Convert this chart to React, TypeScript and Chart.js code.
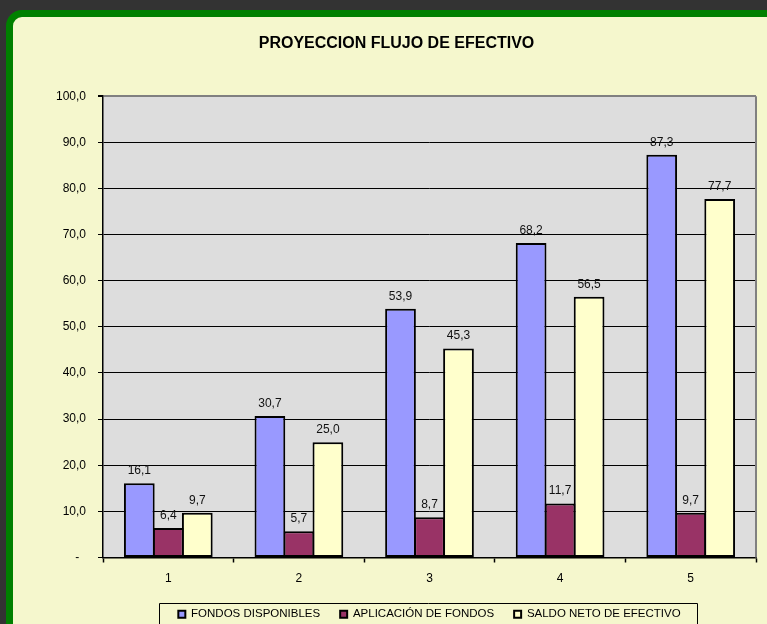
import React, { useEffect, useRef } from "react";
import { Chart, registerables } from "chart.js";

Chart.register(...registerables);

const categories = ["1", "2", "3", "4", "5"];
const fondosDisponibles = [16.1, 30.7, 53.9, 68.2, 87.3];
const aplicacionFondos = [6.4, 5.7, 8.7, 11.7, 9.7];
const saldoNeto = [9.7, 25.0, 45.3, 56.5, 77.7];
const seriesNames = ["FONDOS DISPONIBLES", "APLICACIÓN DE FONDOS", "SALDO NETO DE EFECTIVO"];
const titleText = "PROYECCION FLUJO DE EFECTIVO";

const FONT = "'Liberation Sans', Arial, sans-serif";

const fmt = (v: number) => v.toFixed(1).replace(".", ",");

const plotBgPlugin = {
  id: "plotBg",
  beforeDraw(chart: any) {
    const { ctx, chartArea } = chart;
    ctx.save();
    ctx.fillStyle = "#DDDDDD";
    ctx.fillRect(chartArea.left, chartArea.top, chartArea.right - chartArea.left, chartArea.bottom - chartArea.top);
    ctx.restore();
  },
  afterDraw(chart: any) {
    const { ctx, chartArea } = chart;
    ctx.save();
    ctx.strokeStyle = "#808080";
    ctx.lineWidth = 2;
    ctx.beginPath();
    ctx.moveTo(chartArea.right, chartArea.top);
    ctx.lineTo(chartArea.right, chartArea.bottom);
    ctx.stroke();
    // legend frame
    const lg = chart.legend;
    if (lg && lg.legendHitBoxes && lg.legendHitBoxes.length) {
      const boxes = lg.legendHitBoxes;
      let minL = Infinity;
      let maxR = -Infinity;
      let top = Infinity;
      boxes.forEach((b: any) => {
        minL = Math.min(minL, b.left);
        maxR = Math.max(maxR, b.left + b.width);
        top = Math.min(top, b.top);
      });
      ctx.strokeStyle = "#000";
      ctx.lineWidth = 1;
      const x0 = Math.round(minL - 19) + 0.5;
      const x1 = Math.round(maxR + 16) + 0.5;
      const y0 = Math.round(top - 6) + 0.5;
      ctx.beginPath();
      ctx.rect(x0, y0, x1 - x0, 40);
      ctx.stroke();
    }
    ctx.restore();
  },
};

const dataLabelPlugin = {
  id: "dataLabels",
  afterDatasetsDraw(chart: any) {
    const { ctx } = chart;
    ctx.save();
    ctx.font = `12px ${FONT}`;
    ctx.fillStyle = "#111";
    ctx.textAlign = "center";
    ctx.textBaseline = "middle";
    chart.data.datasets.forEach((ds: any, i: number) => {
      const meta = chart.getDatasetMeta(i);
      meta.data.forEach((el: any, j: number) => {
        ctx.fillText(fmt(ds.data[j]), el.x, el.y - 12.5);
      });
    });
    ctx.restore();
  },
};

export default function App() {
  const ref = useRef<HTMLCanvasElement>(null);
  useEffect(() => {
    if (!ref.current) return;
    const common = {
      borderColor: "#000",
      borderWidth: 2,
      borderSkipped: false,
      barPercentage: 1.06,
      categoryPercentage: 0.666,
    };
    const chart = new Chart(ref.current, {
      type: "bar",
      data: {
        labels: categories,
        datasets: [
          { label: seriesNames[0], data: fondosDisponibles, backgroundColor: "#9999FF", ...common },
          { label: seriesNames[1], data: aplicacionFondos, backgroundColor: "#993366", ...common },
          { label: seriesNames[2], data: saldoNeto, backgroundColor: "#FFFFCC", ...common },
        ],
      },
      options: {
        animation: false,
        responsive: false,
        devicePixelRatio: 1,
        layout: { padding: { left: 37, right: 11, top: 0, bottom: -6 } },
        plugins: {
          title: {
            display: true,
            text: titleText,
            color: "#000",
            font: { size: 16, weight: "bold", family: FONT, lineHeight: 1.2 },
            padding: { top: 34, bottom: 43 },
          },
          legend: {
            display: true,
            position: "bottom",
            fullSize: false,
            labels: {
              color: "#000",
              font: { size: 11.5, family: FONT },
              boxWidth: 7,
              boxHeight: 7,
              padding: 20,
            },
          },
          tooltip: { enabled: false },
        },
        scales: {
          x: {
            grid: {
              drawOnChartArea: false,
              drawTicks: true,
              tickLength: 5,
              tickColor: "#000",
              tickWidth: 1.5,
              offset: true,
            },
            border: { color: "#000", width: 1.5 },
            ticks: { color: "#000", font: { size: 12, family: FONT }, padding: 9 },
            afterFit(scale: any) {
              scale.height = 31;
            },
          },
          y: {
            min: 0,
            max: 100,
            ticks: {
              stepSize: 10,
              color: "#000",
              font: { size: 12, family: FONT },
              padding: 12,
              callback: (v: any) => (Number(v) === 0 ? "-  " : fmt(Number(v))),
            },
            grid: {
              color: (c: any) => (c.tick && c.tick.value === 100 ? "#808080" : "#000"),
              lineWidth: (c: any) => (c.tick && c.tick.value === 100 ? 2 : 1),
              tickColor: "#000",
              tickLength: 5,
            },
            border: { color: "#000", width: 1.5 },
            afterFit(scale: any) {
              scale.width = 66;
            },
          },
        },
      },
      plugins: [plotBgPlugin, dataLabelPlugin],
    } as any);
    return () => chart.destroy();
  }, []);

  return (
    <div
      style={{
        position: "fixed",
        left: 0,
        top: 0,
        width: 767,
        height: 624,
        background: "#333333",
        overflow: "hidden",
      }}
    >
      <div
        style={{
          position: "absolute",
          left: 6,
          top: 10,
          width: 820,
          height: 700,
          border: "7px solid #008000",
          borderRadius: 16,
          background: "#F5F7CD",
        }}
      />
      <canvas
        ref={ref}
        width={767}
        height={624}
        style={{ position: "absolute", left: 0, top: 0, width: 767, height: 624 }}
      />
    </div>
  );
}
